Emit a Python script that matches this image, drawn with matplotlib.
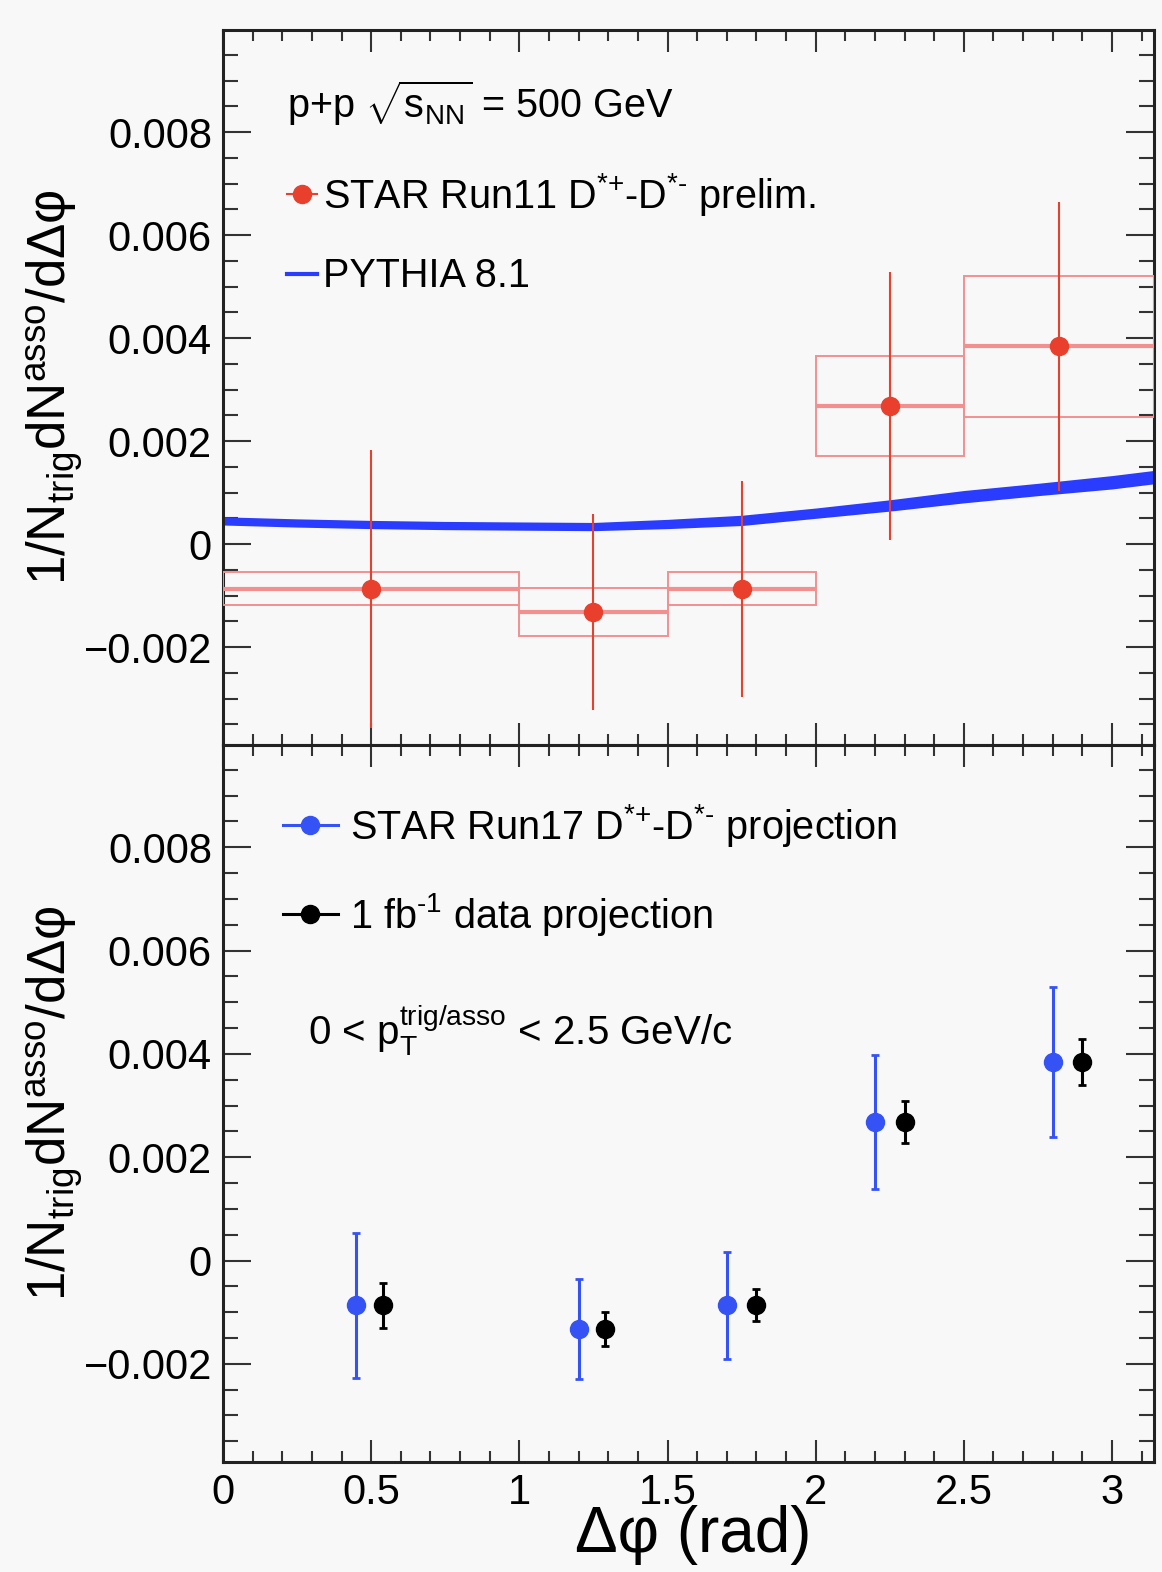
import numpy as np
import matplotlib
matplotlib.use("Agg")
import matplotlib.pyplot as plt
from matplotlib.lines import Line2D
from matplotlib.patches import Rectangle
from matplotlib.ticker import MultipleLocator, FuncFormatter

plt.rcParams['font.family'] = ['Liberation Sans', 'DejaVu Sans']
plt.rcParams['mathtext.fontset'] = 'custom'
plt.rcParams['mathtext.rm'] = 'Liberation Sans'
plt.rcParams['mathtext.it'] = 'Liberation Sans:italic'
plt.rcParams['mathtext.bf'] = 'Liberation Sans:bold'

# delta-phi binning of the Run11 measurement
bin_lo = [0.0, 1.0, 1.5, 2.0, 2.5]
bin_hi = [1.0, 1.5, 2.0, 2.5, np.pi]

# Run11 D*+ - D*- preliminary
run11_x = [0.5, 1.25, 1.75, 2.25, 2.82]
run11_y = [-0.00087, -0.00132, -0.00087, 0.00268, 0.00384]
run11_stat = [0.0027, 0.0019, 0.0021, 0.0026, 0.0028]
run11_sys = [0.00032, 0.00047, 0.00032, 0.00097, 0.00137]

# PYTHIA 8.1 band
pythia_x = [0.0, 0.25, 0.5, 0.75, 1.0, 1.25, 1.5, 1.75, 2.0, 2.25, 2.5, 2.75, 3.0, np.pi]
pythia_y = [0.00045, 0.00041, 0.00038, 0.00036, 0.00035, 0.00034, 0.00039, 0.00046,
            0.0006, 0.00075, 0.00092, 0.00106, 0.0012, 0.0013]
pythia_err = [0.00008, 0.00008, 0.00008, 0.00008, 0.00008, 0.00008, 0.00009, 0.0001,
              0.0001, 0.00011, 0.00012, 0.00012, 0.00013, 0.00013]

# Run17 projection and 1 fb^-1 projection (same central values, shifted in x)
run17_x = [0.45, 1.20, 1.70, 2.20, 2.80]
run17_err = [0.0014, 0.00097, 0.00104, 0.0013, 0.00145]
lumi_x = [0.54, 1.29, 1.80, 2.30, 2.90]
lumi_err = [0.00044, 0.00033, 0.00031, 0.0004, 0.00044]

RED = '#e8402c'
RED_LIGHT = '#f29090'
BLUE_LINE = '#2a3cff'
BLUE_PT = '#3553f5'
BG = '#f8f8f8'
FS = 30      # tick labels
LFS = 28.5   # legend / annotation text

fig = plt.figure(figsize=(11.62, 15.72), dpi=100, facecolor=BG)
left, width = 0.1919, 0.8012
ax1 = fig.add_axes([left, 0.5261, width, 0.4548])
ax2 = fig.add_axes([left, 0.0700, width, 0.4561])


def y_fmt(v, pos):
    if abs(v) < 1e-12:
        return '0'
    return f'{v:.3f}'.replace('-', '\u2212')


def style_axes(ax):
    ax.set_facecolor(BG)
    ax.set_xlim(0, np.pi)
    ax.set_ylim(-0.0039, 0.00998)
    ax.xaxis.set_major_locator(MultipleLocator(0.5))
    ax.xaxis.set_minor_locator(MultipleLocator(0.1))
    ax.yaxis.set_major_locator(MultipleLocator(0.002))
    ax.yaxis.set_minor_locator(MultipleLocator(0.0005))
    ax.tick_params(which='both', direction='in', top=True, right=True,
                   color='#333333', width=1.5, labelsize=FS, pad=8)
    ax.tick_params(axis='x', which='major', length=16)
    ax.tick_params(axis='x', which='minor', length=8)
    ax.tick_params(axis='y', which='major', length=20)
    ax.tick_params(axis='y', which='minor', length=11)
    for s in ax.spines.values():
        s.set_linewidth(2.2)
        s.set_color('#222222')
    ax.yaxis.set_major_formatter(FuncFormatter(y_fmt))
    ax.xaxis.set_major_formatter(FuncFormatter(lambda v, p: f'{v:g}'))


style_axes(ax1)
style_axes(ax2)
ax1.tick_params(labelbottom=False)

# ---- top panel: Run11 data with PYTHIA ----
ylo = np.array(pythia_y) - np.array(pythia_err)
yhi = np.array(pythia_y) + np.array(pythia_err)
ax1.fill_between(pythia_x, ylo, yhi, color=BLUE_LINE, lw=0, zorder=2)
ax1.plot(pythia_x, pythia_y, color=BLUE_LINE, lw=3, zorder=2)

for lo, hi, y, s in zip(bin_lo, bin_hi, run11_y, run11_sys):
    ax1.add_patch(Rectangle((lo, y - s), hi - lo, 2 * s, fill=False,
                            edgecolor=RED_LIGHT, lw=1.4, zorder=3))
ax1.hlines(run11_y, bin_lo, bin_hi, color=RED_LIGHT, lw=3, zorder=3)
ax1.errorbar(run11_x, run11_y, yerr=run11_stat, fmt='o', color=RED, ms=13,
             elinewidth=1.5, capsize=0, zorder=4)

ax1.text(0.069, 0.898, r'p+p $\sqrt{\mathrm{s}_{\mathrm{NN}}}$ = 500 GeV', transform=ax1.transAxes,
         fontsize=LFS, va='center', ha='left')
h_run11 = Line2D([], [], color=RED, marker='o', ms=13, lw=1.5)
h_pythia = Line2D([], [], color=BLUE_LINE, lw=3)
ax1.legend([h_run11, h_pythia],
           [r'STAR Run11 D$^{\text{*+}}$-D$^{\text{*-}}$ prelim.', 'PYTHIA 8.1'],
           loc='upper left', bbox_to_anchor=(0.069, 0.803), frameon=False,
           fontsize=LFS, handlelength=0.75, handletextpad=0.15,
           labelspacing=1.0, borderpad=0, borderaxespad=0)

# ---- bottom panel: projections ----
ax2.errorbar(run17_x, run11_y, yerr=run17_err, fmt='o', color=BLUE_PT, ms=13,
             elinewidth=2.2, capsize=3, capthick=2, zorder=4)
ax2.errorbar(lumi_x, run11_y, yerr=lumi_err, fmt='o', color='black', ms=13,
             elinewidth=2.2, capsize=3, capthick=2, zorder=4)

h_run17 = Line2D([], [], color=BLUE_PT, marker='o', ms=13, lw=2.2)
h_lumi = Line2D([], [], color='black', marker='o', ms=13, lw=2.2)
ax2.legend([h_run17, h_lumi],
           [r'STAR Run17 D$^{\text{*+}}$-D$^{\text{*-}}$ projection', r'1 fb$^{\text{-1}}$ data projection'],
           loc='upper left', bbox_to_anchor=(0.064, 0.92), frameon=False,
           fontsize=LFS, handlelength=1.4, handletextpad=0.3,
           labelspacing=1.05, borderpad=0, borderaxespad=0)
ax2.text(0.0913, 0.6025, r'0 < p$_{\mathrm{T}}^{\mathrm{trig/asso}}$ < 2.5 GeV/c',
         transform=ax2.transAxes, fontsize=LFS + 0.5, va='center', ha='left')

ylab = r'1/N$_{\mathrm{trig}}$dN$^{\mathrm{asso}}$/d' + '\u0394\u03c6'
for ax in (ax1, ax2):
    pos = ax.get_position()
    fig.text(55 / 1162, (pos.y0 + pos.y1) / 2, ylab, rotation=90, fontsize=38,
             ha='center', va='center')
fig.text(693 / 1162, 1 - 1535 / 1572, '\u0394\u03c6 (rad)', fontsize=46, ha='center', va='center')

fig.savefig('out.png', dpi=100, facecolor=BG)
